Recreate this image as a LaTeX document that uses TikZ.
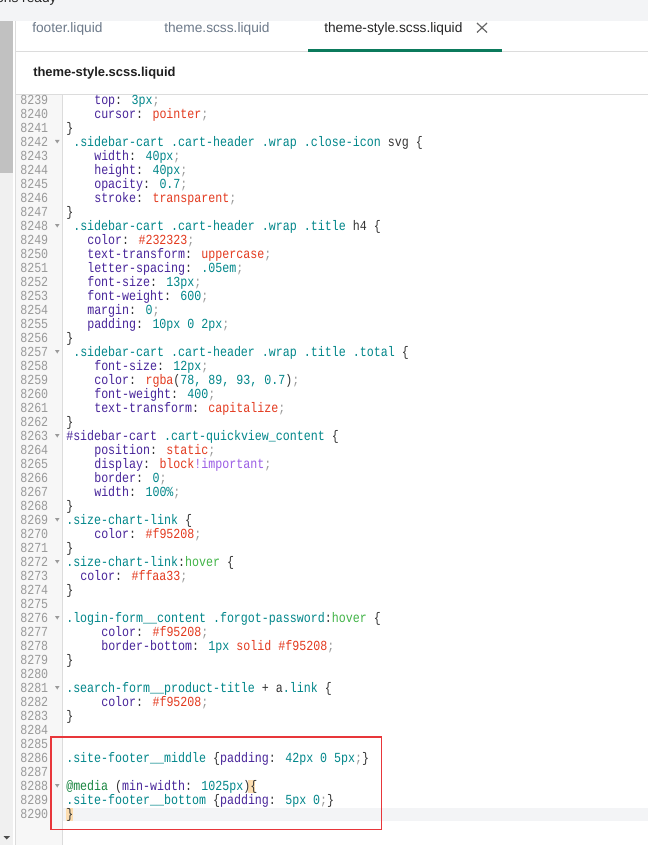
\documentclass[tikz,border=0pt]{standalone}
\usepackage{fontspec}
\newfontfamily\uifont{Liberation Sans}
\newfontfamily\codefont{Liberation Mono}[FakeStretch=0.84]

\definecolor{topbar}{HTML}{F3F4F6}
\definecolor{scrolltrack}{HTML}{F0F0F0}
\definecolor{scrollthumb}{HTML}{C1C1C1}
\definecolor{gutterbg}{HTML}{F7F7F7}
\definecolor{edgec}{HTML}{DCDCDC}
\definecolor{activetab}{HTML}{0B7A5C}
\definecolor{tabgray}{HTML}{6D7A8A}
\definecolor{codetext}{HTML}{333333}
\definecolor{linenum}{HTML}{999999}
\definecolor{foldc}{HTML}{9A9A9A}
\definecolor{selc}{HTML}{00868A}
\definecolor{propc}{HTML}{48259A}
\definecolor{valc}{HTML}{E33A1F}
\definecolor{hovc}{HTML}{41B447}
\definecolor{atc}{HTML}{17853F}
\definecolor{impc}{HTML}{9B5DE5}
\definecolor{semic}{HTML}{999999}
\definecolor{curline}{HTML}{F3F4F6}
\definecolor{matchc}{HTML}{FCDDB0}
\definecolor{boxred}{HTML}{E8363A}

\newcommand\csel[1]{\textcolor{selc}{#1}}
\newcommand\cid[1]{\textcolor{propc}{#1}}
\newcommand\cprop[1]{\textcolor{propc}{#1}}
\newcommand\cnum[1]{\textcolor{selc}{#1}}
\newcommand\cval[1]{\textcolor{valc}{#1}}
\newcommand\chov[1]{\textcolor{hovc}{#1}}
\newcommand\catr[1]{\textcolor{atc}{#1}}
\newcommand\cimp[1]{\textcolor{impc}{#1}}
\newcommand\cend{\textcolor{semic}{;}}

\tikzset{
  code/.style={font=\codefont\fontsize{10.4}{12}\selectfont, text=codetext, inner sep=0pt, anchor=base west, yshift=-0.4pt},
  lineno/.style={font=\codefont\fontsize{10.4}{12}\selectfont, text=linenum, inner sep=0pt, anchor=base east, yshift=-0.4pt},
  tab/.style={font=\uifont\fontsize{10.3}{12}\selectfont, inner sep=0pt, anchor=base west},
  edge/.style={draw=edgec, line width=0.75pt},
}

\begin{document}
\begin{tikzpicture}[x=0.75pt,y=-0.75pt]
  \useasboundingbox (0,0) rectangle (648,845);
  \clip (0,0) rectangle (648,845);
  \fill[white] (0,0) rectangle (648,845);
  \fill[topbar] (0,0) rectangle (648,20.7);
  \fill[scrolltrack] (0,20.7) rectangle (13,845);
  \fill[scrollthumb] (0,20.7) rectangle (13,173);
  \fill[gutterbg] (15.7,94.3) rectangle (62.3,845);
  \fill[curline] (62.5,807.5) rectangle (648,821);
  \fill[matchc] (248,780) rectangle (255,793);
  \fill[matchc] (66,808) rectangle (73,821);
  \draw[edge] (15.7,20.7) -- (15.7,845);
  \draw[edge] (15.7,51.5) -- (648,51.5);
  \draw[edge] (15.7,94.3) -- (648,94.3);
  \draw[edge] (62.3,94.3) -- (62.3,845);
  \fill[activetab] (308,49) rectangle (502,51.8);
  \fill[black!70] (3.5,836) -- (10,836) -- (6.75,839.5) -- cycle;

  \node[tab, text=black!85] (status) at (-4,2.5) {ons ready};
  \node[tab, text=tabgray] (t1) at (32,32.5) {footer.liquid};
  \node[tab, text=tabgray] (t2) at (164,32.5) {theme.scss.liquid};
  \node[tab, text=black!85] (t3) at (324,32.5) {theme-style.scss.liquid};
  \draw[black!60, line width=0.9pt] (477,23) -- (487,32.5) (487,23) -- (477,32.5);
  \node[font=\uifont\bfseries\fontsize{9.7}{12}\selectfont, text=black!88, inner sep=0pt, anchor=base west] (title) at (33,77) {theme-style.scss.liquid};

  \foreach \i in {0,...,51}{
    \pgfmathtruncatemacro\lnum{8239+\i}
    \node[lineno] (n\i) at (48.5,104+14*\i) {\lnum};
  }
  \foreach \i in {3,9,18,24,30,33,37,42,49}
    \fill[foldc] (55,98+14*\i) -- (59.5,98+14*\i) -- (57.25,101.5+14*\i) -- cycle;

  \node[code] (l39) at (94,104) {\cprop{top}: \cnum{3px}\cend};
  \node[code] (l40) at (94,118) {\cprop{cursor}: \cval{pointer}\cend};
  \node[code] (l41) at (66,132) {\}};
  \node[code] (l42) at (73,146) {\csel{.sidebar-cart .cart-header .wrap .close-icon} svg \{};
  \node[code] (l43) at (94,160) {\cprop{width}: \cnum{40px}\cend};
  \node[code] (l44) at (94,174) {\cprop{height}: \cnum{40px}\cend};
  \node[code] (l45) at (94,188) {\cprop{opacity}: \cnum{0.7}\cend};
  \node[code] (l46) at (94,202) {\cprop{stroke}: \cval{transparent}\cend};
  \node[code] (l47) at (66,216) {\}};
  \node[code] (l48) at (73,230) {\csel{.sidebar-cart .cart-header .wrap .title} h4 \{};
  \node[code] (l49) at (87,244) {\cprop{color}: \cval{\#232323}\cend};
  \node[code] (l50) at (87,258) {\cprop{text-transform}: \cval{uppercase}\cend};
  \node[code] (l51) at (87,272) {\cprop{letter-spacing}: \cnum{.05em}\cend};
  \node[code] (l52) at (87,286) {\cprop{font-size}: \cnum{13px}\cend};
  \node[code] (l53) at (87,300) {\cprop{font-weight}: \cnum{600}\cend};
  \node[code] (l54) at (87,314) {\cprop{margin}: \cnum{0}\cend};
  \node[code] (l55) at (87,328) {\cprop{padding}: \cnum{10px 0 2px}\cend};
  \node[code] (l56) at (66,342) {\}};
  \node[code] (l57) at (73,356) {\csel{.sidebar-cart .cart-header .wrap .title .total} \{};
  \node[code] (l58) at (94,370) {\cprop{font-size}: \cnum{12px}\cend};
  \node[code] (l59) at (94,384) {\cprop{color}: \cval{rgba}(\cnum{78, 89, 93, 0.7})\cend};
  \node[code] (l60) at (94,398) {\cprop{font-weight}: \cnum{400}\cend};
  \node[code] (l61) at (94,412) {\cprop{text-transform}: \cval{capitalize}\cend};
  \node[code] (l62) at (66,426) {\}};
  \node[code] (l63) at (66,440) {\cid{\#sidebar-cart} \csel{.cart-quickview\_content} \{};
  \node[code] (l64) at (94,454) {\cprop{position}: \cval{static}\cend};
  \node[code] (l65) at (94,468) {\cprop{display}: \cval{block}\cimp{!important}\cend};
  \node[code] (l66) at (94,482) {\cprop{border}: \cnum{0}\cend};
  \node[code] (l67) at (94,496) {\cprop{width}: \cnum{100\%}\cend};
  \node[code] (l68) at (66,510) {\}};
  \node[code] (l69) at (66,524) {\csel{.size-chart-link} \{};
  \node[code] (l70) at (94,538) {\cprop{color}: \cval{\#f95208}\cend};
  \node[code] (l71) at (66,552) {\}};
  \node[code] (l72) at (66,566) {\csel{.size-chart-link}:\chov{hover} \{};
  \node[code] (l73) at (80,580) {\cprop{color}: \cval{\#ffaa33}\cend};
  \node[code] (l74) at (66,594) {\}};
  \node[code] (l76) at (66,622) {\csel{.login-form\_\_content .forgot-password}:\chov{hover} \{};
  \node[code] (l77) at (101,636) {\cprop{color}: \cval{\#f95208}\cend};
  \node[code] (l78) at (101,650) {\cprop{border-bottom}: \cnum{1px} \cval{solid \#f95208}\cend};
  \node[code] (l79) at (66,664) {\}};
  \node[code] (l81) at (66,692) {\csel{.search-form\_\_product-title} + a\csel{.link} \{};
  \node[code] (l82) at (101,706) {\cprop{color}: \cval{\#f95208}\cend};
  \node[code] (l83) at (66,720) {\}};
  \node[code] (l86) at (66,762) {\csel{.site-footer\_\_middle} \{\cprop{padding}: \cnum{42px 0 5px}\cend\}};
  \node[code] (l88) at (66,790) {\catr{@media} (\cprop{min-width}: \cnum{1025px})\{};
  \node[code] (l89) at (66,804) {\csel{.site-footer\_\_bottom} \{\cprop{padding}: \cnum{5px 0}\cend\}};
  \node[code] (l90) at (66,818) {\}};

  \draw[boxred, line width=0.9pt] (51,737) rectangle (381.7,829.3);
\end{tikzpicture}
\end{document}
